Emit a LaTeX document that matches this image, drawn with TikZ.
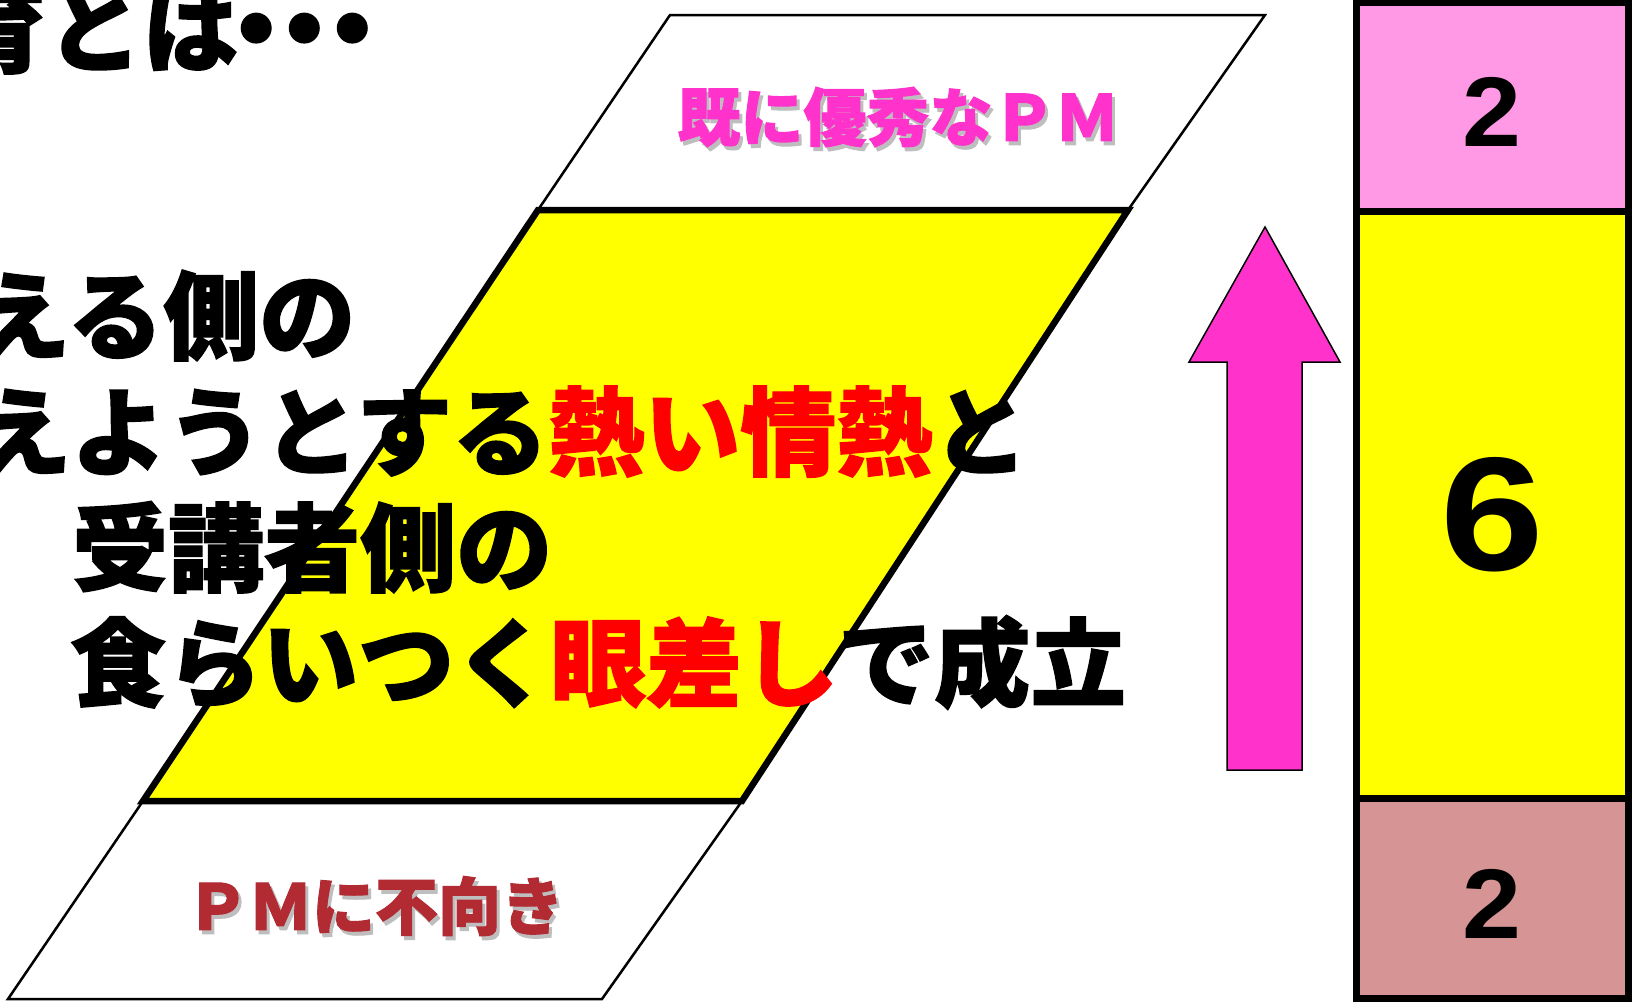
\documentclass[tikz,border=0pt]{standalone}
\usepackage{fontspec}
\setmainfont{Liberation Sans}
\newfontfamily\jp{Noto Sans CJK JP}[BoldFeatures={FakeBold=1.5}]
\definecolor{pinkbox}{HTML}{FF99E5}
\definecolor{brownbox}{HTML}{D69494}
\definecolor{magentaar}{HTML}{FF33CC}
\definecolor{pinktxt}{HTML}{FF33CC}
\definecolor{redtxt}{HTML}{B22A32}
\definecolor{shadowgray}{HTML}{BEBEBE}
\definecolor{hotred}{HTML}{FF0000}
\definecolor{pureyellow}{HTML}{FFFF00}
\newcommand{\hot}[1]{\textcolor{hotred}{#1}}
\newcommand{\bigdot}{\makebox[48pt]{\fontsize{105}{105}\selectfont\raisebox{-3pt}{・}}}
\begin{document}
\begin{tikzpicture}[x=1pt,y=-1pt,
  thinpar/.style={draw=black,line width=2.5pt,fill=white,line join=miter},
  yellowpar/.style={draw=black,line width=6.5pt,fill=pureyellow,line join=miter},
  jptext/.style={anchor=base west,inner sep=0pt,font=\jp\bfseries\fontsize{96}{96}\selectfont},
  lbl/.style={inner sep=0pt,font=\jp\bfseries\fontsize{63}{63}\selectfont},
  boxpart/.style={draw=black,line width=7pt},
  num/.style={inner sep=0pt,font=\bfseries}
]
\useasboundingbox (0,0) rectangle (1633,1002);
\clip (0,0) rectangle (1633,1002);
\fill[white] (0,0) rectangle (1633,1002);

% parallelogram corners
\coordinate (T1) at (670,15);
\coordinate (T2) at (1265,15);
\coordinate (Y1) at (538,210);
\coordinate (Y2) at (1128,210);
\coordinate (Y3) at (742,801);
\coordinate (Y4) at (143,801);
\coordinate (B3) at (602,999);
\coordinate (B4) at (8,999);

\filldraw[thinpar] (Y1) -- (T1) -- (T2) -- (Y2) -- cycle;
\filldraw[thinpar] (Y4) -- (Y3) -- (B3) -- (B4) -- cycle;
\filldraw[yellowpar] (Y1) -- (Y2) -- (Y3) -- (Y4) -- cycle;

% labels in the white parallelograms
\node[lbl,text=shadowgray] (topS) at (901,121) {既に優秀なＰＭ};
\node[lbl,text=pinktxt] (top) at (898,117) {既に優秀なＰＭ};
\node[lbl,text=shadowgray] (botS) at (378,910) {ＰＭに不向き};
\node[lbl,text=redtxt] (bot) at (375,906) {ＰＭに不向き};

% main text
\node[jptext] (l0) at (-50,65) {育とは\kern-6pt\bigdot\bigdot\bigdot};
\node[jptext] (l1) at (-26,352) {える側の};
\node[jptext] (l2) at (-25,468) {えようとする\hot{熱い情熱}と};
\node[jptext] (l3) at (72,584) {受講者側の};
\node[jptext] (l4) at (70,699) {食らいつく\hot{眼差し}で成立};

% arrow
\filldraw[fill=magentaar,draw=black,line width=1.5pt,line join=miter]
  (1265,227) -- (1340,362) -- (1302,362) -- (1302,770) -- (1227,770)
  -- (1227,362) -- (1189,362) -- cycle;

% right column
\filldraw[boxpart,fill=pinkbox] (1356,2) rectangle (1628,211);
\filldraw[boxpart,fill=pureyellow] (1356,211) rectangle (1628,798);
\filldraw[boxpart,fill=brownbox] (1356,798) rectangle (1628,998);
\node[num,font=\bfseries\fontsize{99}{99}\selectfont] (n1) at (1492,111.5) {\scalebox{1.07}[1]{2}};
\node[num,font=\bfseries\fontsize{162}{162}\selectfont] (n2) at (1492,515) {\scalebox{1.15}[1]{6}};
\node[num,font=\bfseries\fontsize{99}{99}\selectfont] (n3) at (1492,904) {\scalebox{1.07}[1]{2}};
\end{tikzpicture}
\end{document}
